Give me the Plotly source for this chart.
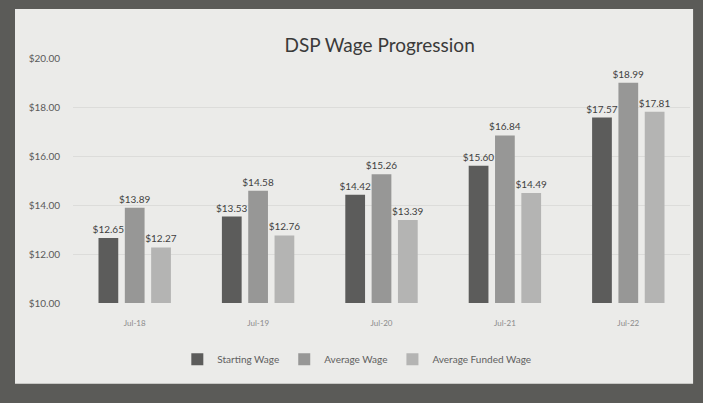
import plotly.graph_objects as go

categories = ["Jul-18", "Jul-19", "Jul-20", "Jul-21", "Jul-22"]
starting_wage = [12.65, 13.53, 14.42, 15.60, 17.57]
average_wage = [13.89, 14.58, 15.26, 16.84, 18.99]
average_funded_wage = [12.27, 12.76, 13.39, 14.49, 17.81]
series_names = ["Starting Wage", "Average Wage", "Average Funded Wage"]
series_colors = ["#5c5c5b", "#979796", "#b4b4b3"]

fig = go.Figure()
for name, vals, col in zip(series_names, [starting_wage, average_wage, average_funded_wage], series_colors):
    fig.add_trace(go.Bar(
        x=categories, y=[v - 10 for v in vals], base=10, name=name,
        marker=dict(color=col, line=dict(width=0)),
        text=[f"${v:.2f}" for v in vals], textposition="outside",
        textfont=dict(size=10, color="#3f3f3f", family="Lato"),
        constraintext="none",
        cliponaxis=False,
        hoverinfo="skip",
    ))

frame = "#5b5b58"
fig.update_layout(
    width=703, height=403,
    paper_bgcolor="#ebebe9", plot_bgcolor="#ebebe9",
    margin=dict(l=73, r=13, t=58, b=100),
    title=dict(text="DSP Wage Progression", x=0.54, y=0.888, xanchor="center", yanchor="middle",
               font=dict(size=19, color="#3a3a3a", family="Lato")),
    barmode="group", bargap=0.36, bargroupgap=0.25,
    showlegend=True,
    legend=dict(orientation="h", x=0.46, xanchor="center", y=-0.23, yanchor="middle",
                font=dict(size=10, color="#606060", family="Lato"), bgcolor="rgba(0,0,0,0)",
                itemwidth=30, traceorder="normal"),
    font=dict(family="Lato"),
    shapes=[
        dict(type="rect", xref="paper", yref="paper", x0=-0.2, x1=-0.094, y0=-0.6, y1=1.4,
             fillcolor=frame, line=dict(width=0), layer="below"),
        dict(type="rect", xref="paper", yref="paper", x0=1.005, x1=1.1, y0=-0.6, y1=1.4,
             fillcolor=frame, line=dict(width=0), layer="below"),
        dict(type="rect", xref="paper", yref="paper", x0=-0.2, x1=1.1, y0=1.2, y1=1.4,
             fillcolor=frame, line=dict(width=0), layer="below"),
        dict(type="rect", xref="paper", yref="paper", x0=-0.2, x1=1.1, y0=-0.6, y1=-0.33,
             fillcolor=frame, line=dict(width=0), layer="below"),
    ],
)
fig.update_yaxes(range=[10, 20], tickvals=[10, 12, 14, 16, 18, 20],
                 ticktext=["$10.00", "$12.00", "$14.00", "$16.00", "$18.00", "$20.00"],
                 tickfont=dict(size=10, color="#5a5a5a"), showgrid=True, gridcolor="#dcdcda",
                 zeroline=False, showline=False, ticklabelstandoff=12)
fig.update_xaxes(tickfont=dict(size=8, color="#8a8a8a"), showline=False, ticks="",
                 ticklabelstandoff=14)

fig.write_html("out.html", config={"displayModeBar": False},
               post_script="document.body.style.margin='0';document.body.style.background='#5b5b58';")
